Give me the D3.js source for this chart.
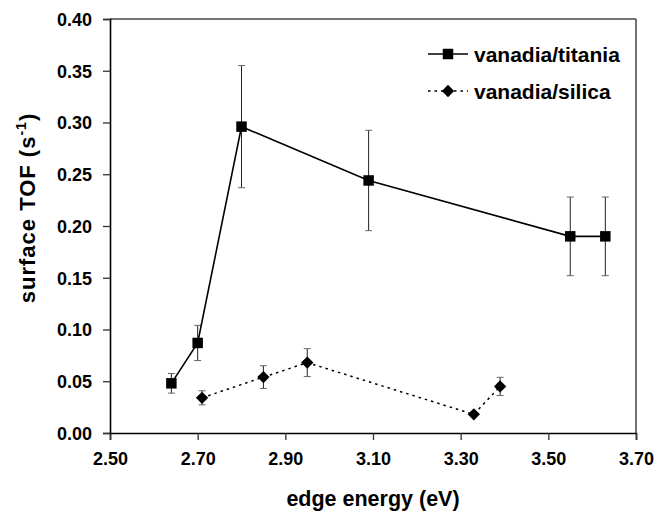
<!DOCTYPE html>
<html><head><meta charset="utf-8">
<script src="https://cdn.jsdelivr.net/npm/d3@7"></script>
<style>body{margin:0;background:#fff}svg{display:block}text{font-family:"Liberation Sans",Arial,sans-serif;font-weight:bold;fill:#000}</style>
</head><body>
<svg id="c" width="658" height="511"></svg>
<script>
const titaniaX = [2.64, 2.70, 2.80, 3.09, 3.55, 3.63];
const titaniaY = [0.048, 0.087, 0.296, 0.244, 0.190, 0.190];
const titaniaErr = [0.0095, 0.017, 0.059, 0.0485, 0.038, 0.038];
const silicaX = [2.71, 2.85, 2.95, 3.33, 3.39];
const silicaY = [0.034, 0.054, 0.068, 0.018, 0.045];
const silicaErr = [0.0068, 0.011, 0.0135, 0, 0.0088];
const xTicks = [2.50, 2.70, 2.90, 3.10, 3.30, 3.50, 3.70];
const yTicks = [0.00, 0.05, 0.10, 0.15, 0.20, 0.25, 0.30, 0.35, 0.40];
const seriesNames = ["vanadia/titania", "vanadia/silica"];

const svg = d3.select("#c");
const L = 110, R = 636, T = 19, B = 433;
const x = d3.scaleLinear().domain([2.5, 3.7]).range([L, R]);
const y = d3.scaleLinear().domain([0, 0.4]).range([B, T]);

// frame top/right
svg.append("line").attr("x1", L).attr("x2", R).attr("y1", T).attr("y2", T).attr("stroke", "#444").attr("stroke-width", 1.5);
svg.append("line").attr("x1", R).attr("x2", R).attr("y1", T).attr("y2", B).attr("stroke", "#444").attr("stroke-width", 1.5);

const xa = svg.append("g").attr("transform", `translate(0,${B})`)
  .call(d3.axisBottom(x).tickValues(xTicks).tickFormat(d3.format(".2f")).tickSize(7).tickPadding(12));
const ya = svg.append("g").attr("transform", `translate(${L},0)`)
  .call(d3.axisLeft(y).tickValues(yTicks).tickFormat(d3.format(".2f")).tickSize(7).tickPadding(11));
[xa, ya].forEach(g => {
  g.select(".domain").attr("stroke", "#000").attr("stroke-width", 1.6);
  g.selectAll(".tick line").attr("stroke", "#333").attr("stroke-width", 1.3);
  g.selectAll(".tick text").style("font-size", "18px").style("font-family", '"Liberation Sans",Arial,sans-serif').style("font-weight", "bold").attr("fill", "#000");
});
ya.selectAll(".tick text").attr("dy", "0.36em");

// axis titles
svg.append("text").attr("x", (L + R) / 2).attr("y", 506).attr("text-anchor", "middle").style("font-size", "21.5px").text("edge energy (eV)");
const yl = svg.append("text").attr("transform", `translate(35,208) rotate(-90)`).attr("text-anchor", "middle")
  .style("font-size", "22px").style("letter-spacing", "1px");
yl.append("tspan").text("surface TOF (s");
yl.append("tspan").attr("dy", -9).style("font-size", "14px").text("-1");
yl.append("tspan").attr("dy", 9).text(")");

function errBars(xs, ys, es) {
  const g = svg.append("g");
  xs.forEach((xv, i) => {
    if (!es[i]) return;
    const cx = x(xv), y1 = y(ys[i] + es[i]), y2 = y(ys[i] - es[i]);
    g.append("line").attr("x1", cx).attr("x2", cx).attr("y1", y1).attr("y2", y2).attr("stroke", "#222").attr("stroke-width", 1);
    [y1, y2].forEach(yy => g.append("line").attr("x1", cx - 3.5).attr("x2", cx + 3.5).attr("y1", yy).attr("y2", yy).attr("stroke", "#666").attr("stroke-width", 1));
  });
}
errBars(titaniaX, titaniaY, titaniaErr);
errBars(silicaX, silicaY, silicaErr);

const line = d3.line().x(d => x(d[0])).y(d => y(d[1]));
svg.append("path").datum(titaniaX.map((v, i) => [v, titaniaY[i]])).attr("d", line)
  .attr("fill", "none").attr("stroke", "#000").attr("stroke-width", 1.6);
svg.append("path").datum(silicaX.map((v, i) => [v, silicaY[i]])).attr("d", line)
  .attr("fill", "none").attr("stroke", "#000").attr("stroke-width", 1.5).attr("stroke-dasharray", "2.5,4");

const sq = d3.symbol().type(d3.symbolSquare).size(110);
const dm = d3.symbol().type(d3.symbolSquare).size(76);
svg.append("g").selectAll("path").data(titaniaX).join("path")
  .attr("transform", (d, i) => `translate(${x(d)},${y(titaniaY[i])})`).attr("d", sq).attr("fill", "#000");
svg.append("g").selectAll("path").data(silicaX).join("path")
  .attr("transform", (d, i) => `translate(${x(d)},${y(silicaY[i])}) rotate(45)`).attr("d", dm).attr("fill", "#000");

// legend
const lg = svg.append("g");
const rows = [{ y: 54, dash: null, sym: sq, w: 1.6, rot: 0 }, { y: 91, dash: "2.5,4", sym: dm, w: 1.5, rot: 45 }];
rows.forEach((r, i) => {
  lg.append("line").attr("x1", 428).attr("x2", 468).attr("y1", r.y).attr("y2", r.y).attr("stroke", "#000").attr("stroke-width", r.w).attr("stroke-dasharray", r.dash);
  lg.append("path").attr("transform", `translate(448,${r.y}) rotate(${r.rot})`).attr("d", r.sym).attr("fill", "#000");
  lg.append("text").attr("x", 474).attr("y", r.y).attr("dy", "0.36em").style("font-size", "21px").text(seriesNames[i]);
});
</script>
</body></html>
